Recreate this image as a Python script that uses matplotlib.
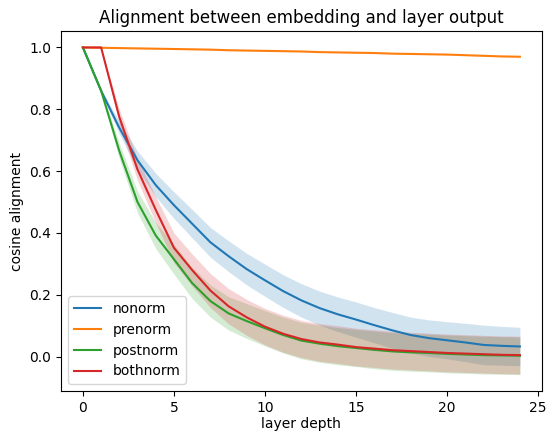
import numpy as np
import matplotlib
matplotlib.use("Agg")
import matplotlib.pyplot as plt

# layer depth 0..24
layers = np.arange(25)

# mean cosine alignment per layer
nonorm = [1.0, 0.86, 0.74, 0.635, 0.555, 0.49, 0.43, 0.37, 0.325, 0.283, 0.247,
          0.212, 0.182, 0.157, 0.137, 0.12, 0.102, 0.085, 0.07, 0.06, 0.053,
          0.046, 0.038, 0.035, 0.033]
nonorm_std = [0.0, 0.005, 0.02, 0.03, 0.038, 0.043, 0.046, 0.048, 0.05, 0.051,
              0.052, 0.053, 0.054, 0.055, 0.056, 0.057, 0.057, 0.058, 0.058,
              0.059, 0.06, 0.062, 0.064, 0.063, 0.062]

prenorm = [1.0, 0.999, 0.998, 0.997, 0.996, 0.995, 0.994, 0.993, 0.991, 0.99,
           0.989, 0.988, 0.987, 0.985, 0.984, 0.983, 0.982, 0.98, 0.979, 0.978,
           0.977, 0.975, 0.973, 0.971, 0.97]
prenorm_std = [0.0, 0.001, 0.001, 0.001, 0.001, 0.001, 0.001, 0.001, 0.001, 0.001,
               0.001, 0.001, 0.001, 0.001, 0.001, 0.001, 0.001, 0.001, 0.001,
               0.001, 0.001, 0.001, 0.001, 0.001, 0.001]

postnorm = [1.0, 0.86, 0.665, 0.5, 0.392, 0.315, 0.238, 0.18, 0.14, 0.115, 0.092,
            0.07, 0.052, 0.042, 0.034, 0.028, 0.022, 0.017, 0.014, 0.012, 0.009,
            0.007, 0.005, 0.004, 0.003]
postnorm_std = [0.0, 0.005, 0.025, 0.035, 0.042, 0.048, 0.05, 0.052, 0.054,
                0.056, 0.057, 0.058, 0.059, 0.06, 0.06, 0.06, 0.061, 0.061,
                0.061, 0.061, 0.061, 0.061, 0.061, 0.061, 0.061]

bothnorm = [1.0, 1.0, 0.775, 0.605, 0.475, 0.352, 0.28, 0.214, 0.163, 0.127,
            0.097, 0.074, 0.057, 0.046, 0.039, 0.031, 0.026, 0.021, 0.018,
            0.015, 0.012, 0.01, 0.008, 0.006, 0.005]
bothnorm_std = [0.0, 0.0, 0.025, 0.035, 0.042, 0.048, 0.052, 0.055, 0.057,
                0.058, 0.059, 0.06, 0.06, 0.061, 0.061, 0.061, 0.061, 0.061,
                0.061, 0.061, 0.061, 0.061, 0.061, 0.061, 0.061]

series = [
    ("nonorm", nonorm, nonorm_std),
    ("prenorm", prenorm, prenorm_std),
    ("postnorm", postnorm, postnorm_std),
    ("bothnorm", bothnorm, bothnorm_std),
]

fig, ax = plt.subplots(figsize=(5.5, 4.32), dpi=100)
plt.subplots_adjust(left=0.111, right=0.985, top=0.928, bottom=0.095)

for name, mean, std in series:
    mean = np.array(mean)
    std = np.array(std)
    line, = ax.plot(layers, mean, label=name)
    ax.fill_between(layers, mean - std, mean + std, color=line.get_color(), alpha=0.2, linewidth=0)

ax.set_title("Alignment between embedding and layer output")
ax.set_xlabel("layer depth", labelpad=2)
ax.set_ylabel("cosine alignment")
ax.legend(loc="lower left")

fig.savefig("out.png")
